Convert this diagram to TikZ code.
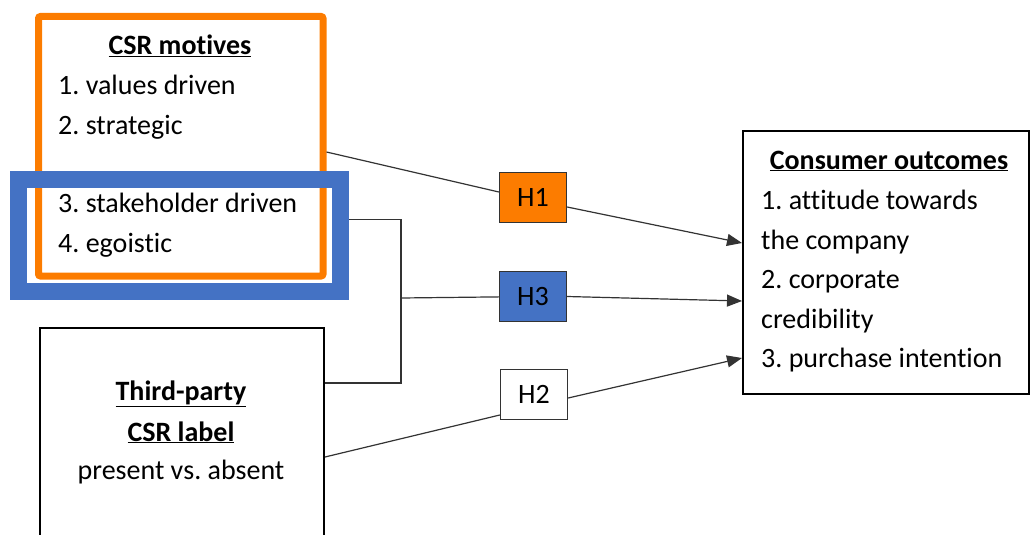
\documentclass[tikz,border=0pt]{standalone}
\usepackage{fontspec}
\setmainfont{Carlito}[Ligatures={NoCommon}]
\usetikzlibrary{arrows.meta}

\definecolor{csrorange}{RGB}{252,124,0}
\definecolor{csrblue}{RGB}{68,114,196}

\newcommand{\csrfont}{\fontsize{28}{32}\selectfont\frenchspacing}
\tikzstyle{motivebox}=[draw=csrorange,line width=7pt,rounded corners=2pt,inner sep=0pt]
\tikzstyle{stakebox}=[draw=csrblue,line width=17pt,inner sep=0pt]
\tikzstyle{plainbox}=[draw=black,line width=2pt,inner sep=0pt]
\tikzstyle{hbox}=[draw=black!80,line width=1.3pt,minimum width=67pt,minimum height=50pt,inner sep=0pt]
\tikzstyle{txt}=[anchor=base west,inner sep=0pt]
\tikzstyle{ttl}=[anchor=base,inner sep=0pt,font=\csrfont\bfseries]
\tikzstyle{link}=[draw=black!80,line width=1.2pt]

\begin{document}
\begin{tikzpicture}[x=1pt,y=-1pt,font=\csrfont]
    \useasboundingbox (0,0) rectangle (1030,535);
    % the two motive frames, blue one on top
    \node[motivebox,minimum width=284.5pt,minimum height=259.5pt] (motives) at (180.75,146.25) {};
    \node[stakebox,minimum width=322.5pt,minimum height=112.5pt] (stake) at (179.25,235.25) {};
    \node[plainbox,minimum width=284pt,minimum height=232pt] (tp) at (182,444) {};
    \node[plainbox,minimum width=286pt,minimum height=263pt] (co) at (886,262.5) {};

    \node[ttl] (mtitle) at (180,55) {\underline{CSR motives}};
    \node[txt] (m1) at (58,94) {1. values driven};
    \node[txt] (m2) at (58,134) {2. strategic};
    \node[txt] (m3) at (58,212) {3. stakeholder driven};
    \node[txt] (m4) at (58,252) {4. egoistic};

    \node[ttl] (tp1) at (181,400) {\underline{Third-party}};
    \node[ttl] (tp2) at (181,441) {\underline{CSR label}};
    \node[anchor=base,inner sep=0pt] (tp3) at (181,479) {present vs. absent};

    \node[ttl] (cotitle) at (889,169) {\underline{Consumer outcomes}};
    \node[txt] (c1) at (761,209) {1. attitude towards};
    \node[txt] (c2) at (761,249) {the company};
    \node[txt] (c3) at (761,288) {2. corporate};
    \node[txt] (c4) at (761,328) {credibility};
    \node[txt] (c5) at (761,367) {3. purchase intention};

    \node[hbox,fill=csrorange] (h1) at (533,197.5) {H1};
    \node[hbox,fill=csrblue] (h3) at (533,296.5) {H3};
    \node[hbox,fill=white] (h2) at (534,394.5) {H2};

    \coordinate (jn) at (401,298);
    \draw[link] ([yshift=-5.75pt]motives.east) -- ([yshift=5.5pt]h1.west);
    \draw[link] ([yshift=16pt]stake.east) -| (jn) |- ([yshift=61pt]tp.east);
    \draw[link] (jn) -- (h3);
    \draw[link] ([yshift=-13pt]tp.east) -- ([yshift=-20.5pt]h2.west);
    \foreach \h/\s/\t in {h1/-9.5/19.5,h3/0/-38.5,h2/-3.5/-95.5}
    \draw[link,-{Triangle[length=15pt,width=12pt]}] ([yshift=\s pt]\h.east) -- ([yshift=\t pt]co.west);
\end{tikzpicture}
\end{document}
